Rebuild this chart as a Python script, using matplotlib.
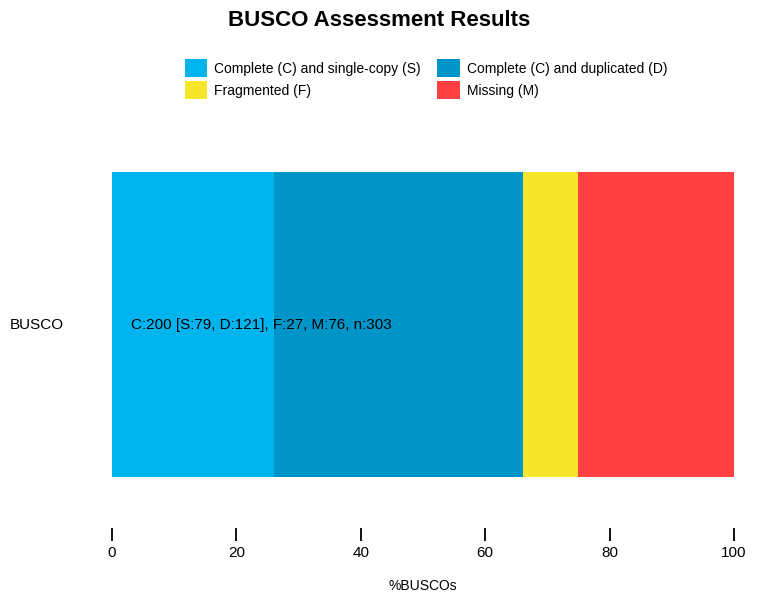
import matplotlib.pyplot as plt
from matplotlib.patches import Patch

plt.rcParams['font.family'] = 'Liberation Sans'

categories = ["Complete (C) and single-copy (S)", "Complete (C) and duplicated (D)",
              "Fragmented (F)", "Missing (M)"]
counts = [79, 121, 27, 76]
colors = ["#00B4EE", "#0095C8", "#F5E62A", "#FF4040"]
total = sum(counts)
percents = [c / total * 100 for c in counts]
summary = "C:%d [S:%d, D:%d], F:%d, M:%d, n:%d" % (
    counts[0] + counts[1], counts[0], counts[1], counts[2], counts[3], total)

W, H = 758, 598
fig = plt.figure(figsize=(W / 100, H / 100), dpi=100)
ax = fig.add_axes([112 / W, (H - 528) / H, (734 - 112) / W, (528 - 172) / H])

left = 0
for p, col in zip(percents, colors):
    ax.barh(0, p, left=left, height=1, color=col, align='center')
    left += p

ax.set_xlim(0, 100)
ax.set_ylim(0.5 - 356 / 305, 0.5)
ax.set_yticks([])
for s in ax.spines.values():
    s.set_visible(False)
ax.set_xticks([0, 20, 40, 60, 80, 100])
ax.tick_params(axis='x', length=9, width=1.3, labelsize=11, pad=4)
ax.set_xlabel("%BUSCOs", fontsize=10, labelpad=14)

ax.text(3, 0, summary, va='center', ha='left', fontsize=11)
fig.text(10 / W, 1 - 325 / H, "BUSCO", va='center', ha='left', fontsize=11)

fig.suptitle("BUSCO Assessment Results", fontsize=16, fontweight='bold', y=1 - 20 / H, va='center')

handles = [Patch(facecolor=c, label=l) for c, l in zip(colors, categories)]
order = [0, 2, 1, 3]
fig.legend([handles[i] for i in order], [categories[i] for i in order],
           ncol=2, loc='center', bbox_to_anchor=(426 / W, 1 - 79 / H), frameon=False,
           fontsize=10, handlelength=1.6, handleheight=1.6, columnspacing=1.2,
           labelspacing=0.3, handletextpad=0.5)

plt.savefig("out.png", dpi=100)
